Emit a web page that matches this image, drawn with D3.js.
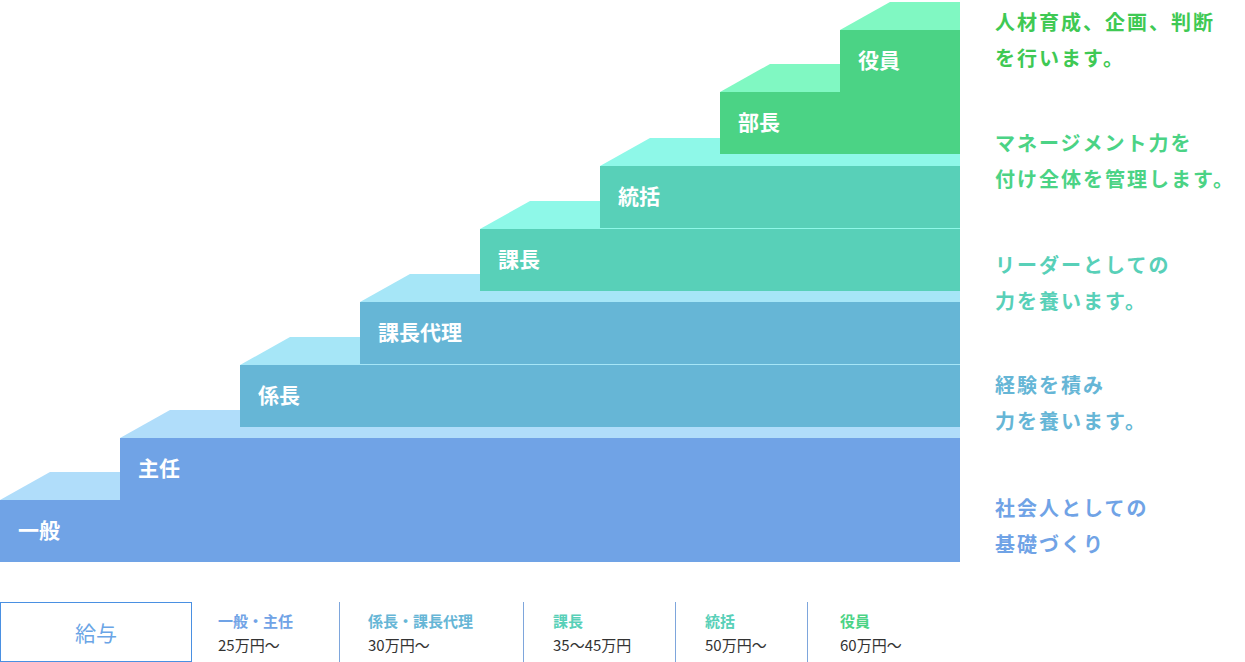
<!DOCTYPE html>
<html><head><meta charset="utf-8">
<script src="https://cdn.jsdelivr.net/npm/d3@7"></script>
<style>body{margin:0;background:#fff}text{font-family:"Noto Sans CJK JP",sans-serif}</style>
</head><body><svg id="c" width="1245" height="662"></svg>
<script>
const steps = ['一般', '主任', '係長', '課長代理', '課長', '統括', '部長', '役員']
const stepTops = [500, 438, 365, 302, 229, 166, 92, 30]
const frontColors = ['#70a3e6', '#70a3e6', '#66b6d6', '#66b6d6', '#58d0b8', '#58d0b8', '#4bd385', '#4bd385']
const topColors = ['#b0ddfa', '#b0ddfa', '#a6e6f7', '#a6e6f7', '#8ef8e8', '#8ef8e8', '#80f8c2', '#80f8c2']
const notes = [
  ['人材育成、企画、判断', 'を行います。'],
  ['マネージメント力を', '付け全体を管理します。'],
  ['リーダーとしての', '力を養います。'],
  ['経験を積み', '力を養います。'],
  ['社会人としての', '基礎づくり'],
]
const noteColors = ['#3fc954', '#4bd385', '#58d0b8', '#66b6d6', '#70a3e6']
const noteY = [22, 143, 265, 385, 508]
const salaryLabels = ['一般・主任', '係長・課長代理', '課長', '統括', '役員']
const salaryValues = ['25万円〜', '30万円〜', '35〜45万円', '50万円〜', '60万円〜']
const salaryColors = ['#70a3e6', '#66b6d6', '#58d0b8', '#58d0b8', '#4bd385']
const salaryX = [218, 368, 553, 705, 840]
const dividers = [339, 523, 675, 807]

const svg = d3.select('#c')
const x = d3.scaleLinear().domain([0, 8]).range([0, 960])
const H = 62, D = 28, S = 50

const g = svg.selectAll('.step').data(steps).enter().append('g').attr('class', 'step')
g.append('path')
  .attr('d', (d, i) => {
    const x0 = x(i), y0 = stepTops[i]
    return `M${x0},${y0}L${x0 + S},${y0 - D}L960,${y0 - D}L960,${y0}Z`
  })
  .style('fill', (d, i) => topColors[i])
g.append('rect')
  .attr('x', (d, i) => x(i)).attr('y', (d, i) => stepTops[i])
  .attr('width', (d, i) => 960 - x(i)).attr('height', H)
  .style('fill', (d, i) => frontColors[i])
g.append('text')
  .attr('x', (d, i) => x(i) + 18).attr('y', (d, i) => stepTops[i] + 38)
  .style('fill', '#fff').style('font-size', '21px').style('font-weight', 'bold')
  .text(d => d)

const n = svg.selectAll('.note').data(notes).enter().append('g')
n.selectAll('text').data((d, i) => d.map(t => ({ t, i }))).enter().append('text')
  .attr('x', 995).attr('y', (d, j) => noteY[d.i] + 8 + j * 36)
  .style('fill', d => noteColors[d.i]).style('font-size', '20px').style('font-weight', 'bold')
  .style('letter-spacing', '2px')
  .text(d => d.t)

svg.append('rect').attr('x', 0.5).attr('y', 602.5).attr('width', 191).attr('height', 59)
  .style('fill', 'none').style('stroke', '#4a90e2')
svg.append('text').attr('x', 96).attr('y', 641).attr('text-anchor', 'middle')
  .style('fill', '#6aa5e6').style('font-size', '21px').text('給与')
svg.selectAll('.div').data(dividers).enter().append('line')
  .attr('x1', d => d + 0.5).attr('x2', d => d + 0.5).attr('y1', 602).attr('y2', 662)
  .style('stroke', '#7ea6dc')
salaryLabels.forEach((l, i) => {
  svg.append('text').attr('x', salaryX[i]).attr('y', 627)
    .style('fill', salaryColors[i]).style('font-size', '15px').style('font-weight', 'bold').text(l)
  svg.append('text').attr('x', salaryX[i]).attr('y', 651)
    .style('fill', '#333').style('font-size', '15px').text(salaryValues[i])
})
</script></body></html>
